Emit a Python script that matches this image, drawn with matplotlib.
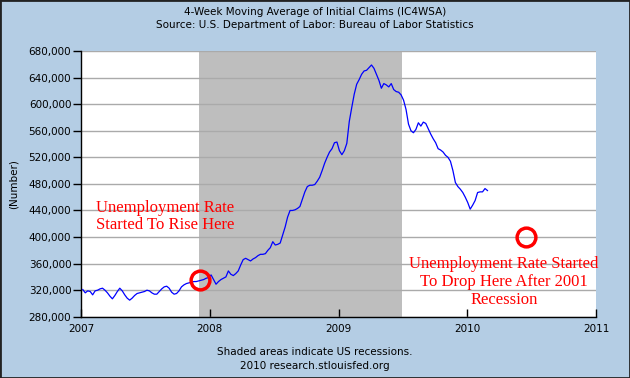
import numpy as np
import pandas as pd
import matplotlib
matplotlib.use("Agg")
import matplotlib.pyplot as plt
from matplotlib.patches import Rectangle

# weekly 4-week moving average of initial claims (thousands)
start_week = "2007-01-06"
claims_k = [
    321, 316, 319, 318, 313, 319, 320, 322, 323, 320,
    316, 311, 307, 312, 318, 323, 319, 313, 308, 305,
    308, 312, 315, 316, 317, 318, 320, 319, 316, 314,
    314, 318, 322, 325, 326, 323, 317, 314, 315, 319,
    325, 328, 330, 331, 332, 333, 333, 334, 335, 336,
    338, 339, 343, 336, 329, 333, 336, 338, 340, 349,
    344, 342, 345, 349, 358, 366, 368, 366, 364, 367,
    369, 372, 374, 374, 375, 380, 384, 393, 388, 389,
    391, 403, 415, 430, 440, 440, 441, 443, 446, 457,
    468, 476, 478, 478, 479, 484, 490, 500, 511, 520,
    528, 533, 542, 543, 530, 524, 530, 541, 574, 595,
    615, 630, 637, 645, 650, 651, 655, 659, 654, 645,
    636, 624, 631, 629, 626, 631, 622, 619, 618, 614,
    606, 592, 570, 560, 557, 562, 572, 567, 573, 571,
    563, 555, 548, 542, 533, 531, 528, 523, 520, 514,
    500, 482, 476, 472, 467, 460, 452, 442, 448, 455,
    467, 468, 468, 473, 470,
]
recession = ("2007-12-01", "2009-06-30")
circle_dates = ["2007-12-05", "2010-06-15"]
circle_vals = [335000, 400000]
yticks = list(range(280000, 680001, 40000))
years = ["2007", "2008", "2009", "2010", "2011"]

dates = pd.date_range(start_week, periods=len(claims_k), freq="7D")
values = np.array(claims_k) * 1000

bg = "#b4cde4"
fig = plt.figure(figsize=(6.3, 3.78), dpi=100, facecolor=bg)
ax = fig.add_axes([0.1286, 0.162, 0.8175, 0.703])
ax.set_facecolor("white")

ax.axvspan(pd.Timestamp(recession[0]), pd.Timestamp(recession[1]), color="#bebebe", lw=0, zorder=1)
for y in yticks:
    ax.axhline(y, color="#aaaaaa", lw=1, zorder=2)
ax.plot(dates, values, color="#0000ff", lw=0.9, zorder=3)
ax.plot(pd.to_datetime(circle_dates), circle_vals, "o", ms=13.5, mfc="none",
        mec="red", mew=2.5, zorder=4)

ax.text(pd.Timestamp("2007-08-27"), 431000, "Unemployment Rate\nStarted To Rise Here",
        color="red", family="Liberation Serif", fontsize=12, ha="center", va="center",
        linespacing=1.15, zorder=5)
ax.text(pd.Timestamp("2010-04-15"), 332000, "Unemployment Rate Started\nTo Drop Here After 2001\nRecession",
        color="red", family="Liberation Serif", fontsize=12, ha="center", va="center",
        linespacing=1.15, zorder=5, clip_on=False)

ax.set_xlim(pd.Timestamp("2007-01-01"), pd.Timestamp("2011-01-01"))
ax.set_ylim(280000, 680000)
ax.set_yticks(yticks)
ax.set_yticklabels([f"{v:,}" for v in yticks])
ax.set_xticks(pd.to_datetime([y + "-01-01" for y in years]))
ax.set_xticklabels(years)
ax.tick_params(axis="y", direction="out", length=6, width=1, labelsize=7.5, pad=1)
ax.tick_params(axis="x", direction="in", length=6, width=1, labelsize=7.5, pad=5)
ax.spines["top"].set_visible(False)
ax.spines["right"].set_visible(False)
ax.spines["left"].set_linewidth(1)
ax.spines["bottom"].set_linewidth(1)
ax.set_ylabel("(Number)", fontsize=7.5, labelpad=7)

fig.text(0.5, 0.968, "4-Week Moving Average of Initial Claims (IC4WSA)", ha="center", va="center", fontsize=7.5)
fig.text(0.5, 0.934, "Source: U.S. Department of Labor: Bureau of Labor Statistics", ha="center", va="center", fontsize=7.5)
fig.text(0.5, 0.069, "Shaded areas indicate US recessions.", ha="center", va="center", fontsize=7.5)
fig.text(0.5, 0.031, "2010 research.stlouisfed.org", ha="center", va="center", fontsize=7.5)

fig.patches.append(Rectangle((0, 0), 1, 1, transform=fig.transFigure, fill=False,
                             edgecolor="#222222", lw=2))

fig.savefig("out.png", dpi=100, facecolor=bg)
